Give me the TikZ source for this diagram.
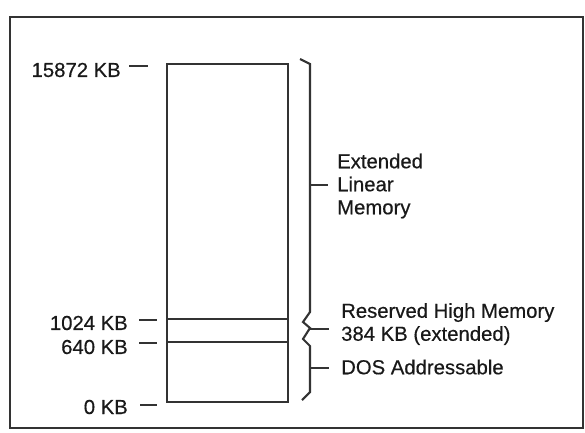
\documentclass[tikz,border=0pt]{standalone}
\usepackage{fontspec}
\setmainfont[FakeBold=0.4]{Liberation Sans}
\begin{document}
\begin{tikzpicture}[x=1pt,y=-1pt,
  ink/.style={draw=black!80, line width=2.6pt, line join=miter},
  thin ink/.style={draw=black!80, line width=2.1pt},
  lbl/.style={inner sep=0pt, text=black!90, font=\fontsize{20.3}{23}\selectfont},
  rlbl/.style={lbl, anchor=west, align=left}]
\useasboundingbox (0,0) rectangle (585,432);
% outer frame
\draw[thin ink] (10,17) rectangle (583,428);
% memory column
\draw[ink] (167,64) rectangle (288,402);
\draw[ink] (167,319) -- (288,319);
\draw[ink] (167,342) -- (288,342);
% left labels
\node[lbl, anchor=east] (a) at (121,70) {15872 KB};
\node[lbl, anchor=east] (b) at (128,323) {1024 KB};
\node[lbl, anchor=east] (c) at (128,347) {640 KB};
\node[lbl, anchor=east] (d) at (128,407) {0 KB};
\draw[thin ink] ([xshift=8pt]a.east |- 0,66) -- (148,66);
\draw[thin ink] ([xshift=11pt]b.east |- 0,320) -- (157,320);
\draw[thin ink] ([xshift=11pt]c.east |- 0,343) -- (157,343);
\draw[thin ink] ([xshift=12pt]d.east |- 0,405) -- (157,405);
% braces
\draw[thin ink] (300,59) -- (310,64) -- (310,312) -- (303,322) -- (310,328)
  -- (303,339) -- (310,346) -- (310,392) -- (302,400);
\coordinate (t1) at (310,185);
\coordinate (t2) at (310,329);
\coordinate (t3) at (310,368);
\draw[thin ink] (t1) -- ++(18,0);
\draw[thin ink] (t2) -- ++(19,0);
\draw[thin ink] (t3) -- ++(19,0);
% right labels
\node[rlbl] (ext) at (337,186) {Extended\\Linear\\Memory};
\node[rlbl] (res) at (341,324) {Reserved High Memory\\384 KB (extended)};
\node[rlbl] (dos) at (341,367) {DOS Addressable};
\end{tikzpicture}
\end{document}
